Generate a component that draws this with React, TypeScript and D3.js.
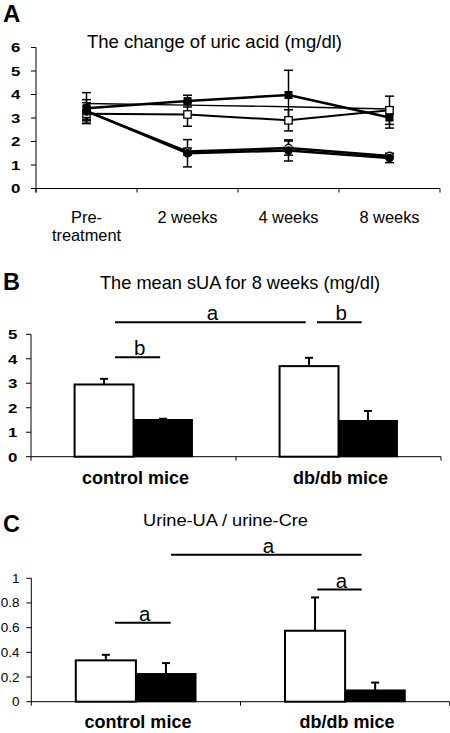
import React from "react";
import * as d3 from "d3";

// ---------- Panel A data ----------
const weeks = ["Pre-treatment", "2 weeks", "4 weeks", "8 weeks"];
const weekLabels = [["Pre-", "treatment"], ["2 weeks"], ["4 weeks"], ["8 weeks"]];
const aTicks = [0, 1, 2, 3, 4, 5, 6];
const sFilledSquare = [3.42, 3.72, 3.98, 3.02];
const eFilledSquare = [0.66, 0.25, 1.05, 0.45];
const sOpenSquare = [3.18, 3.15, 2.9, 3.33];
const eOpenSquare = [0.3, 0.5, 0.45, 0.6];
const sThin = [3.62, 3.55, 3.48, 3.38];
const sFilledCircle = [3.3, 1.5, 1.62, 1.3];
const eFilledCircle = [0.35, 0.58, 0.45, 0.2];
const sOpenCircle = [3.28, 1.57, 1.72, 1.38];
const eOpenCircle = [0.5, 0.15, 0.3, 0.1];

// ---------- Panel B data ----------
const groups = ["control mice", "db/db mice"];
const bTicks = [0, 1, 2, 3, 4, 5];
const bWhite = [2.95, 3.7];
const bWhiteErr = [0.23, 0.34];
const bBlack = [1.52, 1.48];
const bBlackErr = [0.03, 0.39];
// significance marks: [from, to] in group-position units, y value, letter
const bSig = [
  { x0: 0.41, x1: 1.34, y: 5.49, t: "a" },
  { x0: 1.395, x1: 1.613, y: 5.49, t: "b" },
  { x0: 0.41, x1: 0.63, y: 4.06, t: "b" },
];

// ---------- Panel C data ----------
const cTicks = [0, 0.2, 0.4, 0.6, 0.8, 1];
const cWhite = [0.335, 0.575];
const cWhiteErr = [0.045, 0.27];
const cBlack = [0.228, 0.095];
const cBlackErr = [0.085, 0.06];
const cSig = [
  { x0: 0.668, x1: 1.579, y: 1.19, t: "a" },
  { x0: 1.367, x1: 1.579, y: 0.909, t: "a" },
  { x0: 0.4, x1: 0.666, y: 0.639, t: "a" },
];

const FONT = "'Liberation Sans', Arial, Helvetica, sans-serif";

function TickLabel({ x, y, text, bold, size, sx }: any) {
  return (
    <text
      transform={`translate(${x},${y}) scale(${sx},1)`}
      textAnchor="end"
      dy="0.36em"
      fontSize={size}
      fontWeight={bold ? "bold" : "normal"}
    >
      {text}
    </text>
  );
}

function PanelA() {
  const x = d3.scaleBand().domain(weeks).range([36, 440]);
  const y = d3.scaleLinear().domain([0, 6]).range([188.5, 47.5]);
  const cx = (i: number) => (x(weeks[i]) as number) + x.bandwidth() / 2;
  const line = d3
    .line<number>()
    .x((_, i) => cx(i))
    .y((d) => y(d));
  const series = [
    { v: sThin, e: null, w: 1.4, m: "none" },
    { v: sOpenSquare, e: eOpenSquare, w: 2, m: "osq" },
    { v: sOpenCircle, e: eOpenCircle, w: 2.5, m: "oc" },
    { v: sFilledCircle, e: eFilledCircle, w: 2.5, m: "fc" },
    { v: sFilledSquare, e: eFilledSquare, w: 2.5, m: "fsq" },
  ];
  const boundaries = [0, 1, 2, 3].map((i) => x(weeks[i]) as number).concat([x.range()[1]]);
  return (
    <g>
      <text x={3} y={22} fontSize={24} fontWeight="bold">A</text>
      <text x={87} y={48} fontSize={18.5}>The change of uric acid (mg/dl)</text>
      {/* axes */}
      <line x1={36} x2={36} y1={y(6)} y2={y(0) + 4} stroke="#000" strokeWidth={1} />
      {aTicks.map((t) => (
        <g key={t}>
          <line x1={31} x2={36} y1={y(t)} y2={y(t)} stroke="#000" />
          <TickLabel x={20.5} y={y(t)} text={String(t)} bold size={13.5} sx={1.25} />
        </g>
      ))}
      <line x1={36} x2={440} y1={y(0)} y2={y(0)} stroke="#000" />
      {boundaries.map((b, i) => (
        <line key={i} x1={b} x2={b} y1={y(0)} y2={y(0) + 4} stroke="#000" />
      ))}
      {weekLabels.map((lines, i) =>
        lines.map((l, j) => (
          <text key={i + "-" + j} x={cx(i)} y={223 + j * 17.5} textAnchor="middle" fontSize={16.4}>
            {l}
          </text>
        ))
      )}
      {/* lines */}
      {series.map((s, k) => (
        <path key={k} d={line(s.v) as string} fill="none" stroke="#000" strokeWidth={s.w} />
      ))}
      {/* error bars */}
      {series.map((s, k) =>
        s.e
          ? s.v.map((v, i) => {
              const e = (s.e as number[])[i];
              const xx = cx(i);
              return (
                <g key={k + "-" + i} stroke="#000" strokeWidth={1.5}>
                  <line x1={xx} x2={xx} y1={y(v - e)} y2={y(v + e)} />
                  <line x1={xx - 4.5} x2={xx + 4.5} y1={y(v + e)} y2={y(v + e)} />
                  <line x1={xx - 4.5} x2={xx + 4.5} y1={y(v - e)} y2={y(v - e)} />
                </g>
              );
            })
          : null
      )}
      {/* markers */}
      {series.map((s, k) =>
        s.v.map((v, i) => {
          const xx = cx(i);
          const yy = y(v);
          if (s.m === "fsq")
            return <rect key={k + "m" + i} x={xx - 4} y={yy - 4} width={8} height={8} fill="#000" />;
          if (s.m === "osq")
            return (
              <rect key={k + "m" + i} x={xx - 3.7} y={yy - 3.7} width={7.4} height={7.4} fill="#fff" stroke="#000" strokeWidth={1.3} />
            );
          if (s.m === "fc") return <circle key={k + "m" + i} cx={xx} cy={yy} r={4.3} fill="#000" />;
          if (s.m === "oc")
            return <circle key={k + "m" + i} cx={xx} cy={yy} r={3.8} fill="#fff" stroke="#000" strokeWidth={1.3} />;
          return null;
        })
      )}
    </g>
  );
}

function BarPanel({
  letter,
  letterY,
  title,
  titleX,
  titleY,
  titleSize,
  titleLen,
  ticks,
  domain,
  yRange,
  xRange,
  white,
  whiteErr,
  black,
  blackErr,
  sig,
  labelY,
  tickBold,
  tickFmt,
  tickRight,
  tickSize,
  tickSx,
}: any) {
  const x = d3.scaleBand().domain(groups).range(xRange);
  const inner = d3.scaleBand().domain(["w", "b"]).range([0, x.bandwidth()]).paddingInner(0).paddingOuter(0.74);
  const y = d3.scaleLinear().domain(domain).range(yRange);
  const pos = d3.scaleLinear().domain([0, 2]).range(xRange);
  const x0 = xRange[0];
  const y0 = y(0);
  const bars: any[] = [];
  groups.forEach((g, i) => {
    [
      { k: "w", v: white[i], e: whiteErr[i], fill: "#fff" },
      { k: "b", v: black[i], e: blackErr[i], fill: "#000" },
    ].forEach((b) => {
      const bx = (x(g) as number) + (inner(b.k) as number);
      const bw = inner.bandwidth();
      bars.push({ ...b, bx, bw, g });
    });
  });
  return (
    <g>
      <text x={3} y={letterY} fontSize={23.5} fontWeight="bold">{letter}</text>
      <text
        x={titleX}
        y={titleY}
        fontSize={titleSize}
        textAnchor="middle"
        textLength={titleLen}
        lengthAdjust="spacingAndGlyphs"
      >
        {title}
      </text>
      {bars.map((b, i) => {
        const cx = b.bx + b.bw / 2;
        return (
          <g key={"e" + i} stroke="#000" strokeWidth={2}>
            <line x1={cx} x2={cx} y1={y(b.v)} y2={y(b.v + b.e)} />
            <line x1={cx - 4} x2={cx + 4} y1={y(b.v + b.e)} y2={y(b.v + b.e)} />
          </g>
        );
      })}
      {bars.map((b, i) => (
        <rect
          key={"r" + i}
          x={b.bx}
          y={y(b.v)}
          width={b.bw}
          height={y0 - y(b.v)}
          fill={b.fill}
          stroke="#000"
          strokeWidth={b.k === "w" ? 2 : 1}
        />
      ))}
      {/* axes */}
      <line x1={x0} x2={x0} y1={y(domain[1])} y2={y0 + 4} stroke="#000" />
      {ticks.map((t: number) => (
        <g key={t}>
          <line x1={x0 - 5} x2={x0} y1={y(t)} y2={y(t)} stroke="#000" />
          <TickLabel x={tickRight} y={y(t)} text={tickFmt(t)} bold={tickBold} size={tickSize} sx={tickSx} />
        </g>
      ))}
      <line x1={x0} x2={xRange[1]} y1={y0} y2={y0} stroke="#000" />
      {groups.map((g) => {
        const b = (x(g) as number) + x.bandwidth();
        return <line key={g} x1={b} x2={b} y1={y0} y2={y0 + 4} stroke="#000" />;
      })}
      {groups.map((g) => (
        <text
          key={g}
          x={(x(g) as number) + x.bandwidth() / 2 + 2}
          y={labelY}
          textAnchor="middle"
          fontSize={18}
          fontWeight="bold"
        >
          {g}
        </text>
      ))}
      {sig.map((s: any, i: number) => (
        <g key={"s" + i}>
          <line x1={pos(s.x0)} x2={pos(s.x1)} y1={y(s.y)} y2={y(s.y)} stroke="#000" strokeWidth={2} />
          <text x={(pos(s.x0) + pos(s.x1)) / 2 + 2} y={y(s.y) - 2} textAnchor="middle" fontSize={20.5}>
            {s.t}
          </text>
        </g>
      ))}
    </g>
  );
}

export default function App() {
  return (
    <svg
      width={450}
      height={733}
      viewBox="0 0 450 733"
      style={{ position: "absolute", left: 0, top: 0, background: "#fff", fontFamily: FONT }}
    >
      <rect x={0} y={0} width={450} height={733} fill="#fff" />
      <PanelA />
      <BarPanel
        letter="B"
        letterY={290}
        title="The mean sUA for 8 weeks (mg/dl)"
        titleX={240}
        titleY={289}
        titleSize={18.5}
        titleLen={280}
        ticks={bTicks}
        domain={[0, 5]}
        yRange={[456.7, 334.3]}
        xRange={[31, 441]}
        white={bWhite}
        whiteErr={bWhiteErr}
        black={bBlack}
        blackErr={bBlackErr}
        sig={bSig}
        labelY={484}
        tickBold={true}
        tickFmt={(t: number) => String(t)}
        tickRight={17.5}
        tickSize={13.5}
        tickSx={1.25}
      />
      <BarPanel
        letter="C"
        letterY={532}
        title="Urine-UA / urine-Cre"
        titleX={225.5}
        titleY={526}
        titleSize={16}
        titleLen={165}
        ticks={cTicks}
        domain={[0, 1]}
        yRange={[701.7, 578.3]}
        xRange={[31.3, 449.7]}
        white={cWhite}
        whiteErr={cWhiteErr}
        black={cBlack}
        blackErr={cBlackErr}
        sig={cSig}
        labelY={728}
        tickBold={false}
        tickFmt={(t: number) => d3.format("")(t)}
        tickRight={19.5}
        tickSize={12.5}
        tickSx={1.08}
      />
    </svg>
  );
}
